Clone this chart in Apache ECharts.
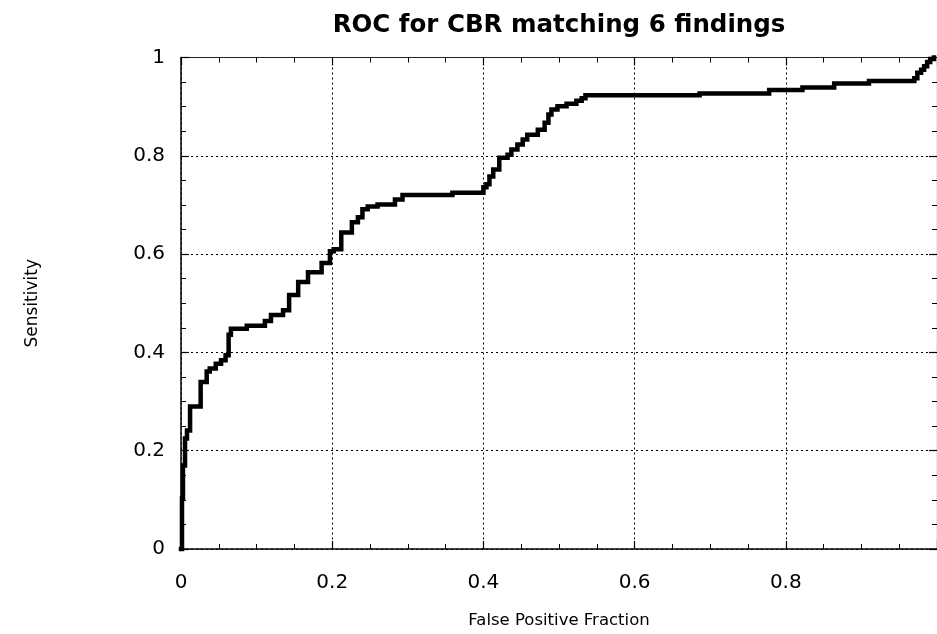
<!DOCTYPE html>
<html>
<head>
<meta charset="utf-8">
<script src="https://cdn.jsdelivr.net/npm/echarts@6/dist/echarts.min.js"></script>
<style>html,body{margin:0;padding:0;background:#fff}#c{width:937px;height:634px}</style>
</head>
<body>
<div id="c"></div>
<script>
const titleText = "ROC for CBR matching 6 findings";
const xName = "False Positive Fraction";
const yName = "Sensitivity";
const majorTicks = [0, 0.2, 0.4, 0.6, 0.8, 1];

// False positive fraction (x) and sensitivity (y) at each step corner
const fpf = [0, 0.0013, 0.0026, 0.0053, 0.0079, 0.012, 0.026, 0.034, 0.038, 0.046, 0.053, 0.059, 0.063, 0.066,
  0.087, 0.111, 0.119, 0.135, 0.143, 0.155, 0.168, 0.186, 0.197, 0.202, 0.212, 0.226, 0.234, 0.240, 0.247,
  0.260, 0.283, 0.293, 0.359, 0.400, 0.404, 0.408, 0.413, 0.421, 0.432, 0.437, 0.445, 0.452, 0.458, 0.472,
  0.481, 0.486, 0.490, 0.498, 0.510, 0.523, 0.530, 0.535, 0.686, 0.778, 0.822, 0.864, 0.910, 0.970, 0.974,
  0.979, 0.983, 0.987, 0.991, 0.996];
const sensitivity = [0, 0.103, 0.170, 0.225, 0.241, 0.290, 0.340, 0.361, 0.367, 0.377, 0.384, 0.394, 0.436, 0.448,
  0.454, 0.464, 0.476, 0.486, 0.517, 0.543, 0.563, 0.582, 0.606, 0.610, 0.644, 0.665, 0.675, 0.691, 0.697,
  0.701, 0.711, 0.720, 0.725, 0.736, 0.742, 0.758, 0.772, 0.796, 0.802, 0.813, 0.823, 0.833, 0.843, 0.853,
  0.867, 0.884, 0.894, 0.901, 0.906, 0.912, 0.917, 0.923, 0.927, 0.934, 0.939, 0.947, 0.952, 0.958, 0.969,
  0.975, 0.982, 0.991, 0.997, 1.0];

// Build the ROC staircase: move horizontally at the old sensitivity, then rise.
const points = [];
fpf.forEach((x, i) => {
  if (i > 0) points.push([x, sensitivity[i - 1]]);
  points.push([x, sensitivity[i]]);
});
const FONT = "DejaVu Sans";

const chart = echarts.init(document.getElementById('c'), null, {renderer: 'canvas'});
const commonAxis = {
  type: 'value', min: 0, max: 1, interval: 0.2,
  axisLine: {show: true, onZero: false, lineStyle: {color: '#000', width: 1.5}},
  axisTick: {show: true, inside: true, length: 8, lineStyle: {color: '#000', width: 1.2}},
  minorTick: {show: true, splitNumber: 4, length: 5, lineStyle: {color: '#000', width: 1}},
  splitLine: {show: false}
};
chart.setOption({
  animation: false,
  backgroundColor: '#fff',
  title: {
    text: titleText, left: 554, top: 8, textAlign: 'center',
    textStyle: {fontFamily: FONT, fontWeight: 'bold', fontSize: 24.5, color: '#000'}
  },
  grid: {left: 181, top: 57.5, width: 756, height: 493.5, containLabel: false},
  xAxis: [
    Object.assign({}, commonAxis, {
      position: 'bottom',
      name: xName, nameLocation: 'middle', nameGap: 63,
      nameTextStyle: {fontFamily: FONT, fontSize: 16.5, color: '#000'},
      axisLabel: {show: true, margin: 24, fontFamily: FONT, fontSize: 20, color: '#000', showMaxLabel: false,
        formatter: v => String(v)},
      splitLine: {show: true, lineStyle: {color: '#000', width: 1, type: [2, 3]}}
    }),
    Object.assign({}, commonAxis, {
      position: 'top', axisLabel: {show: false},
      axisLine: {show: true, onZero: false, lineStyle: {color: '#222', width: 1.2}}
    })
  ],
  yAxis: [
    Object.assign({}, commonAxis, {
      position: 'left',
      name: yName, nameLocation: 'middle', nameGap: 140, nameRotate: 90,
      nameTextStyle: {fontFamily: FONT, fontSize: 17, color: '#000'},
      axisLabel: {show: true, margin: 16, fontFamily: FONT, fontSize: 20, color: '#000',
        formatter: v => String(v)},
      splitLine: {show: true, lineStyle: {color: '#000', width: 1, type: [2, 3]}}
    }),
    Object.assign({}, commonAxis, {
      position: 'right', axisLabel: {show: false},
      axisLine: {show: true, onZero: false, lineStyle: {color: '#222', width: 1.2}}
    })
  ],
  series: [{
    type: 'custom', data: points, xAxisIndex: 0, yAxisIndex: 0, clip: false,
    encode: {x: 0, y: 1},
    renderItem: function (params, api) {
      if (params.dataIndex !== 0) return null;
      const pts = points.map(p => api.coord(p));
      return {
        type: 'polyline',
        shape: {points: pts},
        style: {stroke: '#000', lineWidth: 4.5, fill: null, lineCap: 'square', lineJoin: 'miter'},
        z2: 10
      };
    }
  }]
});
</script>
</body>
</html>
